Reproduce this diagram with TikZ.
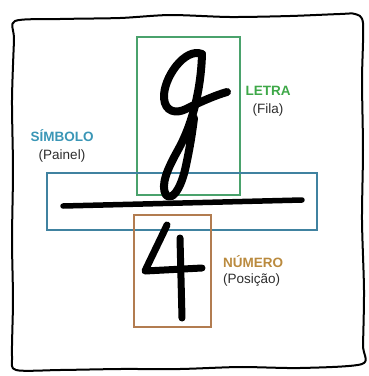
\documentclass[tikz,border=0pt]{standalone}
\usepackage{fontspec}
\setmainfont{Liberation Sans}
\usepackage{xcolor}
\usetikzlibrary{positioning}

\definecolor{letragreen}{RGB}{74,162,108}
\definecolor{letratext}{RGB}{62,168,72}
\definecolor{simboloblue}{RGB}{64,130,160}
\definecolor{simbolotext}{RGB}{58,150,182}
\definecolor{numerobrown}{RGB}{178,124,80}
\definecolor{numerotext}{RGB}{186,138,62}
\definecolor{subtext}{RGB}{45,45,45}

\begin{document}
\begin{tikzpicture}[x=1pt, y=-1pt,
  framebox/.style={line width=2pt, black, line join=round},
  zone/.style={rectangle, draw, line width=1.5pt, inner sep=0pt, fill=none},
  glyph/.style={line width=8pt, black, line cap=round, line join=round},
  head/.style={font=\fontsize{13.5}{16}\selectfont\bfseries, inner sep=0pt},
  sub/.style={font=\fontsize{13.5}{16}\selectfont, text=subtext, inner sep=0pt}
]
\useasboundingbox (0,0) rectangle (368,376);

\draw[framebox] plot[smooth cycle, tension=0.45] coordinates {
  (15,21) (60,19) (120,18) (170,15) (230,17) (290,16) (340,14) (355,14)
  (363,23) (362,80) (363,150) (362,220) (364,290) (363,345) (362,364)
  (300,368) (240,367) (180,369) (120,369) (60,370) (16,370)
  (12,356) (13,300) (12,240) (13,170) (12,100) (14,40)};

\node[zone, draw=letragreen, minimum width=103pt, minimum height=158pt] (letra) at (188.5,116) {};
\node[zone, draw=simboloblue, minimum width=270pt, minimum height=57pt] (simbolo) at (182,201.5) {};
\node[zone, draw=numerobrown, minimum width=77pt, minimum height=112pt] (numero) at (172.5,271) {};

\draw[glyph] (202,54) .. controls (185,47) and (163,78) .. (164,98)
  .. controls (165,112) and (176,114) .. (186,109)
  .. controls (200,102) and (216,95) .. (227,92);
\draw[glyph] (202,54) .. controls (201,90) and (192,125) .. (178,150)
  .. controls (168,168) and (160,185) .. (166,195)
  .. controls (172,201) and (180,190) .. (185,170)
  .. controls (189,152) and (192,135) .. (194,118);

\draw[glyph, line width=5.5pt] (63,206) -- (302,200);

\draw[glyph, line width=7pt] (167,225) .. controls (160,240) and (152,256) .. (145,271) -- (202,268);
\draw[glyph, line width=7pt] (180,238) -- (182,318);

\node[head, text=letratext, anchor=base] (letrahead) at (268,95) {LETRA};
\node[sub, below=8pt of letrahead] (fila) {(Fila)};

\node[head, text=simbolotext, anchor=base] (simbolohead) at (62,141) {SÍMBOLO};
\node[sub, below=8pt of simbolohead] (painel) {(Painel)};

\node[head, text=numerotext, anchor=base west] (numerohead) at (223,267) {NÚMERO};
\node[sub, below=6pt of numerohead.south west, anchor=north west] (posicao) {(Posição)};

\end{tikzpicture}
\end{document}
